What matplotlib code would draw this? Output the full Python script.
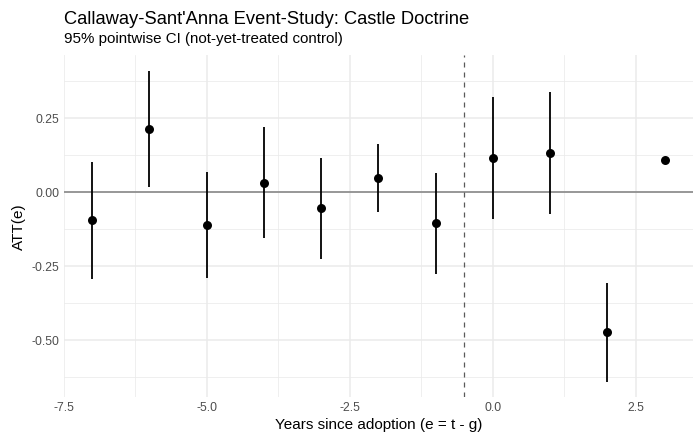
import matplotlib
matplotlib.use("Agg")
import matplotlib.pyplot as plt
from matplotlib import rcParams

rcParams.update({
    "font.family": "Liberation Sans",
    "axes.unicode_minus": False,
})

# event-study estimates
event_time = [-7, -6, -5, -4, -3, -2, -1, 0, 1, 2, 3]
att = [-0.095, 0.215, -0.110, 0.032, -0.054, 0.048, -0.105, 0.116, 0.134, -0.472, 0.108]
ci_low = [-0.292, 0.019, -0.290, -0.155, -0.224, -0.068, -0.275, -0.091, -0.072, -0.640, None]
ci_high = [0.101, 0.411, 0.069, 0.220, 0.116, 0.162, 0.064, 0.322, 0.340, -0.305, None]

x_ticks = [-7.5, -5.0, -2.5, 0.0, 2.5]
x_minor = [-6.25, -3.75, -1.25, 1.25]
y_ticks = [-0.50, -0.25, 0.00, 0.25]
y_minor = [-0.625, -0.375, -0.125, 0.125, 0.375]

fig = plt.figure(figsize=(6.94, 4.33), dpi=100, facecolor="white")
ax = fig.add_axes([0.0915, 0.082, 0.9075, 0.791])
ax.set_xlim(-7.5, 3.5)
ax.set_ylim(-0.693, 0.464)
for s in ax.spines.values():
    s.set_visible(False)

# grid, ggplot minimal style
for v in x_minor:
    ax.axvline(v, color="#EBEBEB", lw=0.55, zorder=0)
for v in y_minor:
    ax.axhline(v, color="#EBEBEB", lw=0.55, zorder=0)
for v in x_ticks:
    ax.axvline(v, color="#EBEBEB", lw=1.1, zorder=0)
for v in y_ticks:
    ax.axhline(v, color="#EBEBEB", lw=1.1, zorder=0)

ax.axhline(0, color="#7F7F7F", lw=1.1, zorder=1)
ax.axvline(-0.5, color="#5A5A5A", lw=0.9, ls=(0, (4, 4)), zorder=1)

for e, lo, hi in zip(event_time, ci_low, ci_high):
    if lo is not None:
        ax.plot([e, e], [lo, hi], color="black", lw=1.3, solid_capstyle="butt", zorder=2)
ax.scatter(event_time, att, s=42, color="black", zorder=3, linewidths=0)

ax.set_xticks(x_ticks)
ax.set_xticklabels([f"{v:.1f}" for v in x_ticks])
ax.set_yticks(y_ticks)
ax.set_yticklabels([f"{v:.2f}" for v in y_ticks])
ax.tick_params(length=0, labelsize=8.8, labelcolor="#4D4D4D", pad=3)

ax.set_xlabel("Years since adoption (e = t - g)", fontsize=11, color="black", labelpad=3)
ax.set_ylabel("ATT(e)", fontsize=11, color="black", labelpad=4)

fig.text(63.5 / 694, 1 - 23.5 / 433, "Callaway-Sant'Anna Event-Study: Castle Doctrine",
         fontsize=13.2, ha="left", va="baseline", color="black")
fig.text(63.5 / 694, 1 - 43 / 433, "95% pointwise CI (not-yet-treated control)",
         fontsize=10.9, ha="left", va="baseline", color="black")

fig.savefig("out.png", dpi=100)
